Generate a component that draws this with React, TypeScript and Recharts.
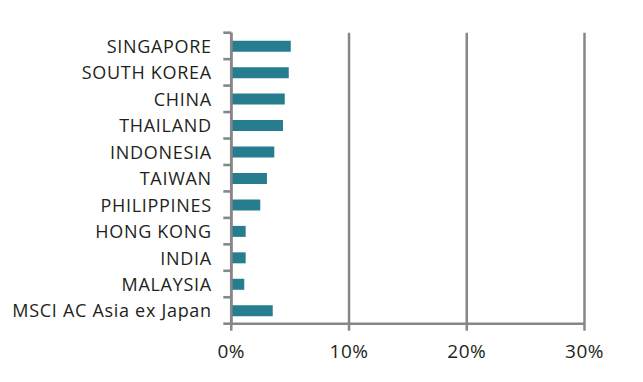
import React from "react";
import { BarChart, Bar, XAxis, YAxis, CartesianGrid } from "recharts";

const countries = [
  "SINGAPORE",
  "SOUTH KOREA",
  "CHINA",
  "THAILAND",
  "INDONESIA",
  "TAIWAN",
  "PHILIPPINES",
  "HONG KONG",
  "INDIA",
  "MALAYSIA",
  "MSCI AC Asia ex Japan",
];
const values = [5.05, 4.88, 4.54, 4.39, 3.65, 3.03, 2.46, 1.22, 1.22, 1.1, 3.52];
const xTicks = [0, 10, 20, 30];

const data = countries.map((name, i) => ({ name, value: values[i] }));

const W = 643;
const H = 382;
const TOP = 32.7;
const XAXIS_H = 30;
const BOTTOM = 28.3;
const YAXIS_W = 231.3;
const RIGHT = 58.5;
const PLOT_H = H - TOP - XAXIS_H - BOTTOM;
const BAND = PLOT_H / countries.length;
const GREY = "#878787";
const FONT = "'Open Sans', sans-serif";

const YTick = (props: any) => {
  const { y, payload, index } = props;
  const ax = YAXIS_W;
  const top = y - BAND / 2;
  const isLast = index === countries.length - 1;
  return (
    <g>
      <line x1={ax - 8} x2={ax} y1={top} y2={top} stroke={GREY} strokeWidth={2.6} />
      {isLast && (
        <line x1={ax - 8} x2={ax} y1={top + BAND} y2={top + BAND} stroke={GREY} strokeWidth={2.6} />
      )}
      <text
        x={ax - 19.5}
        y={y}
        textAnchor="end"
        dominantBaseline="central"
        fill="#231F20"
        fontFamily={FONT}
        fontSize={18}
        letterSpacing={0.7}
      >
        {payload.value}
      </text>
    </g>
  );
};

export default function App() {
  return (
    <div style={{ position: "absolute", left: 0, top: 0, width: W, height: H, background: "#fff" }}>
      <BarChart
        width={W}
        height={H}
        data={data}
        layout="vertical"
        margin={{ top: TOP, right: RIGHT, bottom: BOTTOM, left: 0 }}
        barCategoryGap={0}
      >
        <CartesianGrid horizontal={false} stroke={GREY} strokeWidth={2.5} strokeDasharray="" />
        <XAxis
          type="number"
          domain={[0, 30]}
          ticks={xTicks}
          interval={0}
          height={XAXIS_H}
          axisLine={{ stroke: GREY, strokeWidth: 2.6 }}
          tickLine={{ stroke: GREY, strokeWidth: 2.5 }}
          tickSize={7}
          tickMargin={14}
          tickFormatter={(v: number) => `${v}%`}
          tick={{ fill: "#231F20", fontFamily: FONT, fontSize: 19, letterSpacing: 0.5 }}
        />
        <YAxis
          type="category"
          dataKey="name"
          width={YAXIS_W}
          axisLine={{ stroke: GREY, strokeWidth: 2.7 }}
          tickLine={false}
          tickSize={0}
          tick={<YTick />}
          interval={0}
        />
        <Bar dataKey="value" fill="#267D8E" barSize={11} isAnimationActive={false} />
      </BarChart>
    </div>
  );
}
